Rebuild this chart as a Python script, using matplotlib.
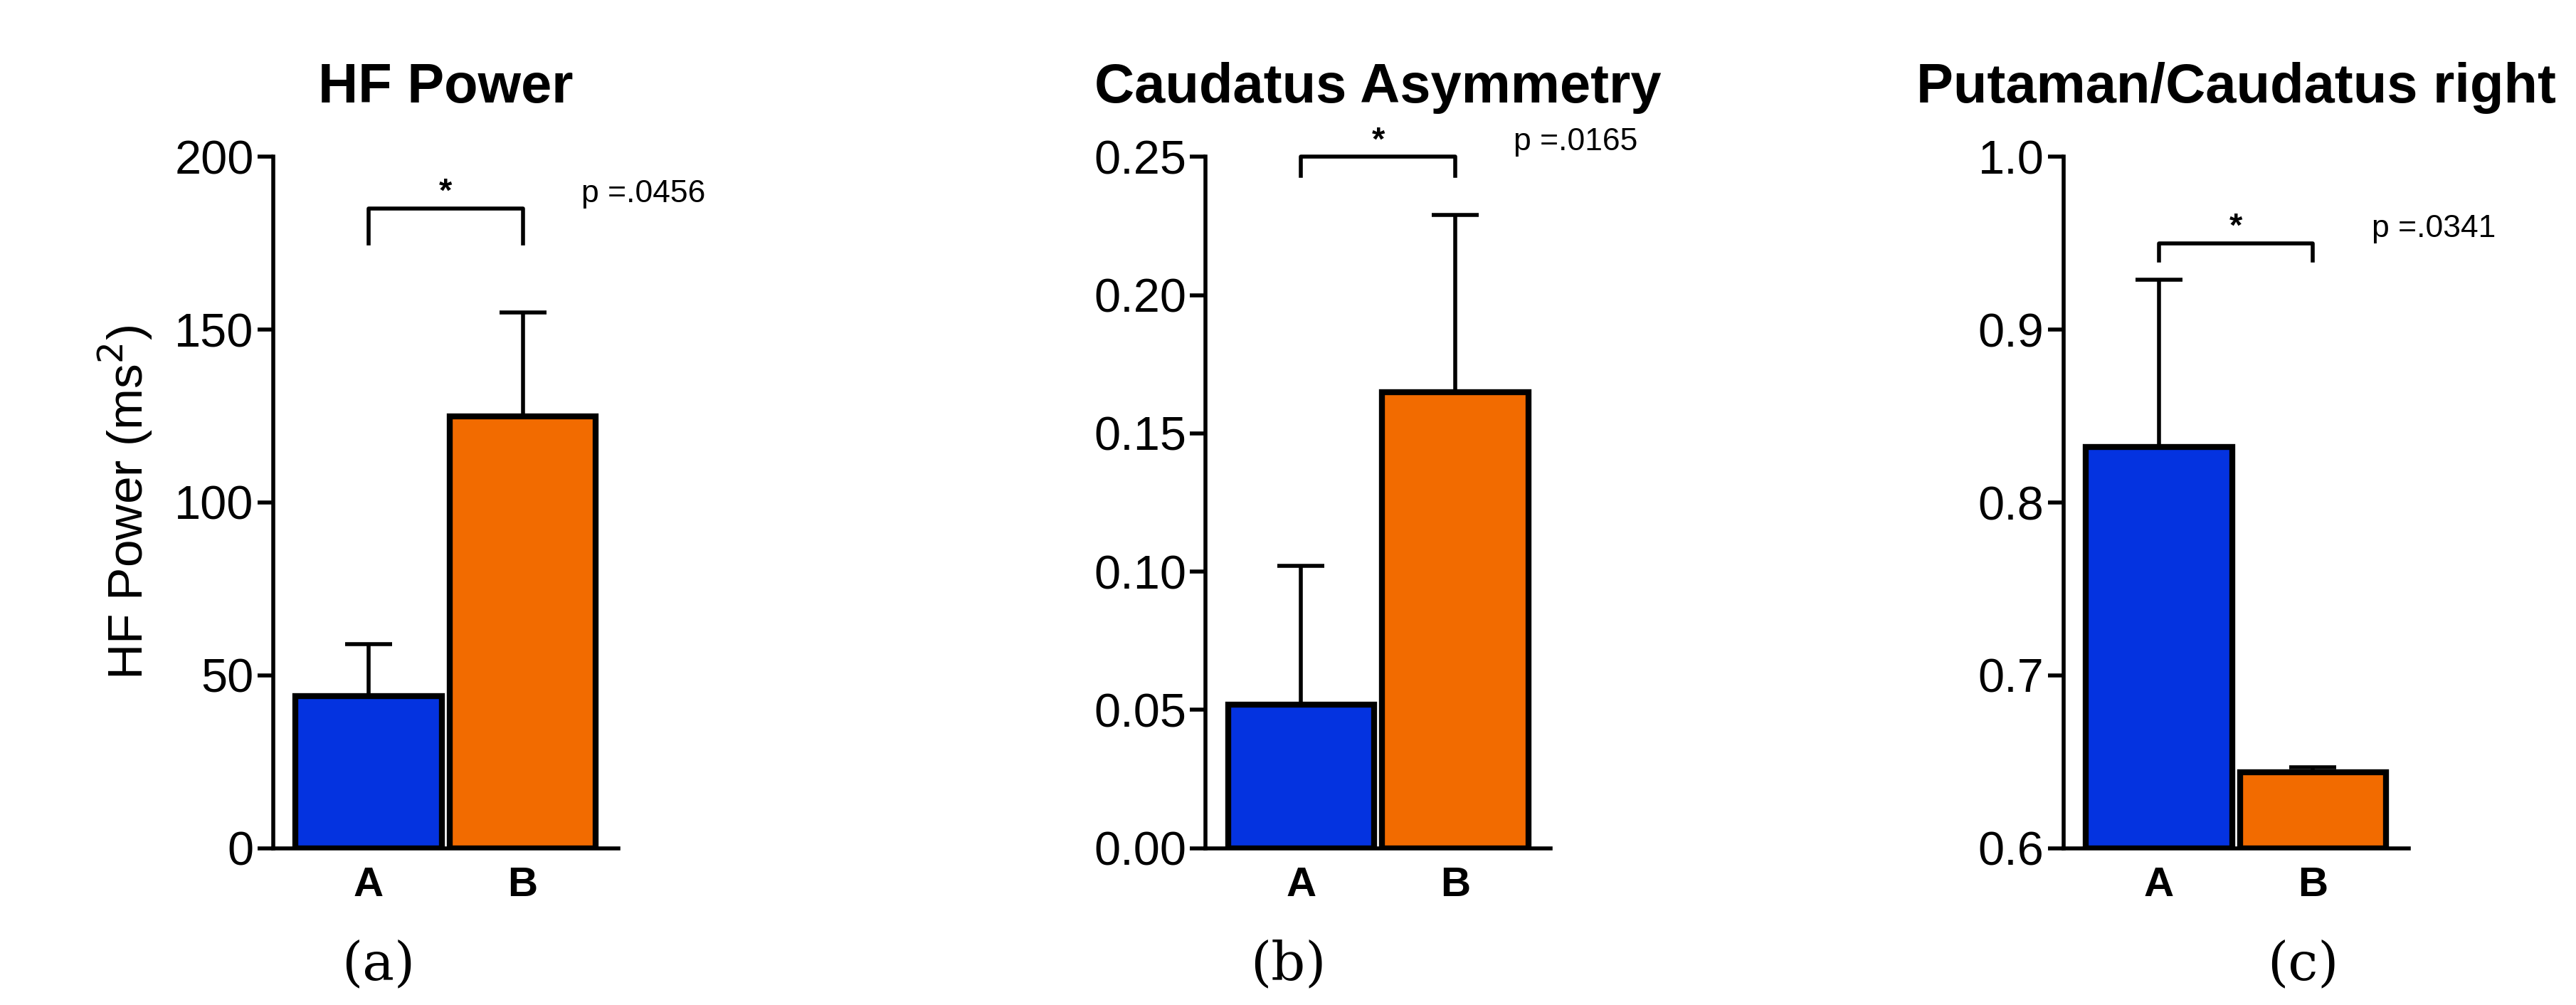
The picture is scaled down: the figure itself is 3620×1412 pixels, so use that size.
import matplotlib.pyplot as plt
import numpy as np

plt.rcParams['font.family'] = ['Liberation Sans', 'DejaVu Sans']

groups = ['A', 'B']
titles = ['HF Power', 'Caudatus Asymmetry', 'Putaman/Caudatus right']
panel_labels = ['(a)', '(b)', '(c)']
means = [[44, 125], [0.052, 0.165], [0.832, 0.644]]
upper = [[59, 155], [0.102, 0.229], [0.929, 0.647]]
p_texts = ['p =.0456', 'p =.0165', 'p =.0341']
ylims = [(0, 200), (0, 0.25), (0.6, 1.0)]
yticks = [np.arange(0, 201, 50), np.arange(0, 0.26, 0.05), np.arange(0.6, 1.01, 0.1)]
ytick_fmt = ['{:.0f}', '{:.2f}', '{:.1f}']
bracket_y = [(175, 185), (0.243, 0.25), (0.94, 0.95)]
colors = ['#0433e0', '#f26b00']

fig = plt.figure(figsize=(36.2, 14.12), dpi=100)
lefts = [0.106, 0.468, 0.801]
label_x = [0.147, 0.50, 0.894]

for i in range(3):
    ax = fig.add_axes([lefts[i], 0.156, 0.134, 0.688])
    x = np.arange(2)
    err = np.array(upper[i]) - np.array(means[i])
    bottom = ylims[i][0]
    ax.bar(x, np.array(means[i]) - bottom, bottom=bottom, width=0.95, color=colors,
           edgecolor='black', linewidth=6, zorder=3)
    ax.errorbar(x, means[i], yerr=[np.zeros(2), err], fmt='none', ecolor='black',
                elinewidth=4, capsize=24, capthick=4, zorder=2)
    ax.set_xlim(-0.62, 1.62)
    ax.set_ylim(*ylims[i])
    ax.set_yticks(yticks[i])
    ax.set_yticklabels([ytick_fmt[i].format(v) for v in yticks[i]], fontsize=48)
    ax.set_xticks(x)
    ax.set_xticklabels(groups, fontsize=42, fontweight='bold')
    ax.tick_params(axis='both', width=4, length=16)
    ax.tick_params(axis='x', length=0, pad=18)
    for s in ['top', 'right']:
        ax.spines[s].set_visible(False)
    for s in ['left', 'bottom']:
        ax.spines[s].set_linewidth(4)
    ax.set_title(titles[i], fontsize=56, fontweight='bold', pad=55)
    lo, hi = bracket_y[i]
    ax.plot([0, 0, 1, 1], [lo, hi, hi, lo], color='black', lw=4, clip_on=False)
    ax.text(0.5, hi, '*', ha='center', va='bottom', fontsize=34, fontweight='bold')
    ax.text(1.38, hi, p_texts[i], ha='left', va='bottom', fontsize=32)
    fig.text(label_x[i], 0.025, panel_labels[i], ha='center', fontsize=54, family='serif')

fig.axes[0].set_ylabel('HF Power (ms$^2$)', fontsize=50, labelpad=20)
fig.savefig('out.png')
